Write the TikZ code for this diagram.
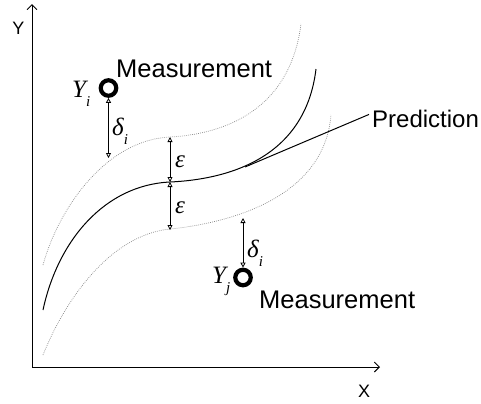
\documentclass[tikz,border=0pt]{standalone}
\usepackage{fontspec}
\setmainfont{Liberation Sans}
\newfontfamily\varfont{Liberation Serif}
\usepackage{tikz}
\usetikzlibrary{arrows.meta,positioning}
\newcommand{\mvar}[2]{{\varfont\itshape #1\raisebox{-0.36em}{\fontsize{15bp}{15bp}\selectfont #2}}}
\tikzset{
  axisedge/.style={{Straight Barb[length=5bp,width=10bp]}-{Straight Barb[length=5bp,width=10bp]}, draw=black, line width=0.9bp},
  predcurve/.style={draw=black, line width=1bp},
  bandcurve/.style={draw=black!45, line width=0.7bp, dash pattern=on 0.8bp off 1.2bp},
  gapedge/.style={{Triangle[open,length=5bp,width=5bp]}-{Triangle[open,length=5bp,width=5bp]}, draw=black, line width=0.8bp},
  measnode/.style={circle, draw=black, line width=4.2bp, minimum size=15.5bp, inner sep=0pt},
  wordnode/.style={font=\fontsize{25.5bp}{30bp}\selectfont, inner sep=0pt},
  prednode/.style={font=\fontsize{24bp}{28bp}\selectfont, inner sep=0pt},
  axisnode/.style={font=\fontsize{18bp}{21bp}\selectfont, inner sep=0pt},
  varnode/.style={font=\fontsize{25bp}{29bp}\selectfont, inner sep=0pt},
}
\begin{document}
\begin{tikzpicture}[x=1bp, y=-1bp]
  \useasboundingbox (0,0) rectangle (481,403);
  % axes
  \coordinate (o) at (32,367);
  \coordinate (ytip) at (32,4);
  \coordinate (xtip) at (380,367);
  \draw[axisedge] (ytip) -- (o) -- (xtip);
  \node[axisnode] (ylab) at (18.5,28) {Y};
  \node[axisnode] (xlab) at (364,391.5) {X};
  % prediction and band
  \draw[predcurve] (43,310) .. controls (58,240) and (105,185) .. (170,182)
    .. controls (225,179.5) and (305,160) .. (316,69);
  \draw[bandcurve] (43,265) .. controls (58,210) and (105,140) .. (170,137)
    .. controls (225,134) and (290,110) .. (301,24);
  \draw[bandcurve] (43,355) .. controls (65,300) and (110,235) .. (170,229)
    .. controls (225,223.5) and (324,200) .. (331,115);
  \coordinate (tp) at (245,167);
  \coordinate (bandup) at (170,137);
  \coordinate (mid) at (170,182);
  \coordinate (banddown) at (170,230);
  \coordinate (ui) at (108.5,158);
  \coordinate (lj) at (243,218);
  \node[prednode, anchor=base west] (pred) at (372,127) {Prediction};
  \draw[predcurve] (tp) -- ([xshift=-3bp,yshift=4bp]pred.west);
  % measurements
  \node[measnode] (mi) at (108.5,88) {};
  \node[measnode] (mj) at (243,277.5) {};
  \node[wordnode, anchor=base west] (measi) at (116,77) {Measurement};
  \node[wordnode, anchor=base west] (measj) at (259,308) {Measurement};
  \node[varnode, anchor=base west] (yi) at (72,97) {\mvar{Y}{i}};
  \node[varnode, anchor=base west] (yj) at (212,283) {\mvar{Y}{j}};
  \draw[gapedge] (mi) -- (ui);
  \draw[gapedge] (lj) -- (mj);
  \draw[gapedge] (bandup) -- (mid);
  \draw[gapedge] (mid) -- (banddown);
  \node[varnode, anchor=base west] (di) at (112,135) {\mvar{δ}{i}};
  \node[varnode, anchor=base west] (dj) at (247,257) {\mvar{δ}{i}};
  \node[varnode, anchor=base west] (eu) at (175,167) {{\varfont\itshape ε}};
  \node[varnode, anchor=base west] (el) at (175,213) {{\varfont\itshape ε}};
\end{tikzpicture}
\end{document}
